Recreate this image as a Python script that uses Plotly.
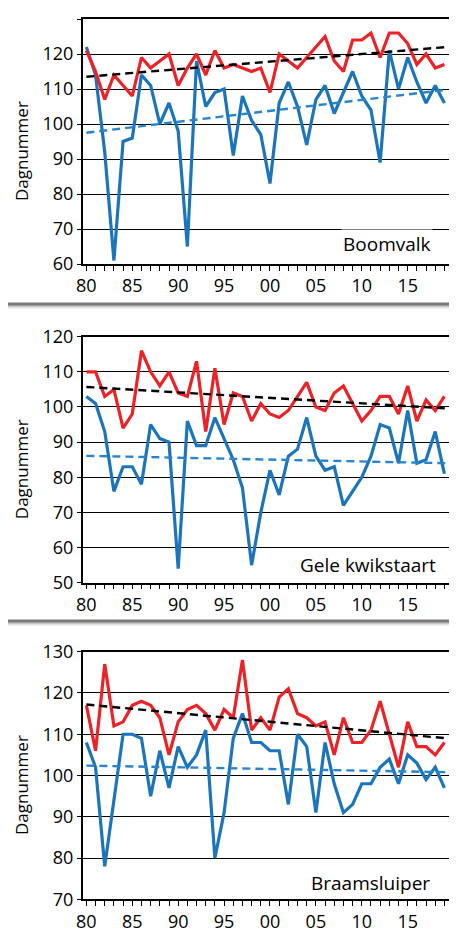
import plotly.graph_objects as go

years = list(range(1980, 2020))

boomvalk_red = [121, 115, 107, 114, 111, 108, 119, 116, 118, 120,
                111, 116, 120, 114, 121, 116, 117, 116, 115, 116,
                109, 120, 118, 116, 119, 122, 125, 118, 115, 124,
                124, 126, 119, 126, 126, 123, 117, 120, 116, 117]
boomvalk_blue = [122, 114, 92, 61, 95, 96, 114, 111, 100, 106,
                 98, 65, 118, 105, 109, 110, 91, 108, 101, 97,
                 83, 106, 112, 105, 94, 107, 111, 103, 109, 115,
                 108, 104, 89, 121, 110, 119, 112, 106, 111, 106]

gele_red = [110, 110, 103, 105, 94, 98, 116, 110, 106, 110,
            104, 103, 113, 93, 111, 95, 104, 103, 96, 101,
            98, 97, 99, 103, 107, 100, 99, 104, 106, 101,
            96, 99, 103, 103, 98, 106, 96, 102, 99, 103]
gele_blue = [103, 101, 93, 76, 83, 83, 78, 95, 91, 90,
             54, 96, 89, 89, 97, 91, 85, 77, 55, 70,
             82, 75, 86, 88, 97, 86, 82, 83, 72, 76,
             80, 86, 95, 94, 84, 99, 84, 85, 93, 81]

braam_red = [117, 106, 127, 112, 113, 117, 118, 117, 114, 105,
             113, 116, 117, 115, 111, 116, 114, 128, 111, 114,
             111, 119, 121, 115, 114, 112, 113, 105, 114, 108,
             108, 111, 118, 110, 102, 113, 107, 107, 105, 108]
braam_blue = [108, 102, 78, 94, 110, 110, 109, 95, 106, 97,
              107, 102, 105, 111, 80, 91, 109, 115, 108, 108,
              106, 106, 93, 110, 107, 91, 108, 98, 91, 93,
              98, 98, 102, 104, 98, 105, 103, 99, 102, 97]

trend_x = [1980, 2019.3]
boomvalk_trend_red = [113.5, 122.0]
boomvalk_trend_blue = [97.5, 109.8]
gele_trend_red = [105.7, 99.6]
gele_trend_blue = [86.1, 84.0]
braam_trend_red = [117.2, 109.0]
braam_trend_blue = [102.4, 100.8]

species = ["Boomvalk", "Gele kwikstaart", "Braamsluiper"]
y_ranges = [[60, 130], [50, 120], [70, 130]]
tick_years = [1980, 1985, 1990, 1995, 2000, 2005, 2010, 2015]
tick_text = ["80", "85", "90", "95", "00", "05", "10", "15"]

# the page body has an 8px margin: the figure starts at (8, 8) in the window
OFF = 8
W, H = 449, 932
RED = "#ec2227"
BLUE = "#1b75bc"
BLUE_D = "#2a84cc"
FONT = "Open Sans"

# window pixel positions of panels (top, bottom)
panels_px = [(19, 264), (336.7, 582.7), (651.7, 899.3)]
x_px = (82.7, 449)

def px(p):
    return (p - OFF) / W

def py(p):
    return 1 - (p - OFF) / H

fig = go.Figure()
data_sets = [
    (boomvalk_red, boomvalk_blue, boomvalk_trend_red, boomvalk_trend_blue),
    (gele_red, gele_blue, gele_trend_red, gele_trend_blue),
    (braam_red, braam_blue, braam_trend_red, braam_trend_blue),
]

layout = dict(
    width=W, height=H, margin=dict(l=0, r=0, t=0, b=0, autoexpand=False),
    paper_bgcolor="white", plot_bgcolor="white", showlegend=False,
    font=dict(family=FONT, size=18, color="black"),
    annotations=[], shapes=[],
)

for i, (red, blue, tr, tb) in enumerate(data_sets):
    n = "" if i == 0 else str(i + 1)
    xa, ya = "x" + n, "y" + n
    fig.add_trace(go.Scatter(x=years, y=blue, mode="lines", xaxis=xa, yaxis=ya,
                             line=dict(color=BLUE, width=3.2)))
    fig.add_trace(go.Scatter(x=years, y=red, mode="lines", xaxis=xa, yaxis=ya,
                             line=dict(color=RED, width=3.2)))
    fig.add_trace(go.Scatter(x=trend_x, y=tb, mode="lines", xaxis=xa, yaxis=ya,
                             line=dict(color=BLUE_D, width=2.4, dash="8px,5px")))
    fig.add_trace(go.Scatter(x=trend_x, y=tr, mode="lines", xaxis=xa, yaxis=ya,
                             line=dict(color="black", width=2.4, dash="8px,5px")))
    top, bot = panels_px[i]
    layout["xaxis" + n] = dict(
        domain=[px(x_px[0]), min(1.0, px(x_px[1]))], anchor=ya, range=[1979.6, 2019.5],
        tickmode="array", tickvals=tick_years, ticktext=tick_text,
        ticks="outside", ticklen=5, tickwidth=1.2, tickcolor="black",
        minor=dict(tickmode="linear", tick0=1980, dtick=1, ticks="outside",
                   ticklen=5, tickwidth=1.2, tickcolor="black", showgrid=False),
        showline=True, linecolor="black", linewidth=1.5, mirror=True,
        showgrid=False, zeroline=False, tickfont=dict(size=18, family=FONT),
        fixedrange=True, automargin=False,
    )
    layout["yaxis" + n] = dict(
        domain=[py(bot), py(top)], anchor=xa, range=y_ranges[i], dtick=10,
        ticks="outside", ticklen=4, tickwidth=1.2, tickcolor="black",
        showline=True, linecolor="black", linewidth=1.5, mirror=True,
        showgrid=True, gridcolor="black", gridwidth=1, zeroline=False,
        tickfont=dict(size=18, family=FONT), fixedrange=True, automargin=False,
    )
    layout["annotations"].append(dict(
        text="Dagnummer", textangle=-90, xref="paper", yref="paper",
        x=px(9), y=py((top + bot) / 2 + 10), showarrow=False,
        font=dict(size=17, family=FONT), xanchor="left", yanchor="middle",
        borderpad=0))

label_pos = [(433, 244), (438, 565), (432, 883)]
for name, (lx, ly) in zip(species, label_pos):
    layout["annotations"].append(dict(
        text=name, xref="paper", yref="paper", x=px(lx), y=py(ly),
        showarrow=False, xanchor="right", yanchor="middle",
        font=dict(size=19, family=FONT), bgcolor="white"))

# separators with soft shadow
for sy in (304, 621):
    for off, col, w in ((3, "#e2e2e2", 3), (2, "#c4c4c4", 2), (0, "#7a7a7a", 3)):
        layout["shapes"].append(dict(
            type="line", xref="paper", yref="paper", x0=0, x1=1,
            y0=py(sy + off), y1=py(sy + off), line=dict(color=col, width=w)))

fig.update_layout(**layout)
fig.write_html("out.html")
